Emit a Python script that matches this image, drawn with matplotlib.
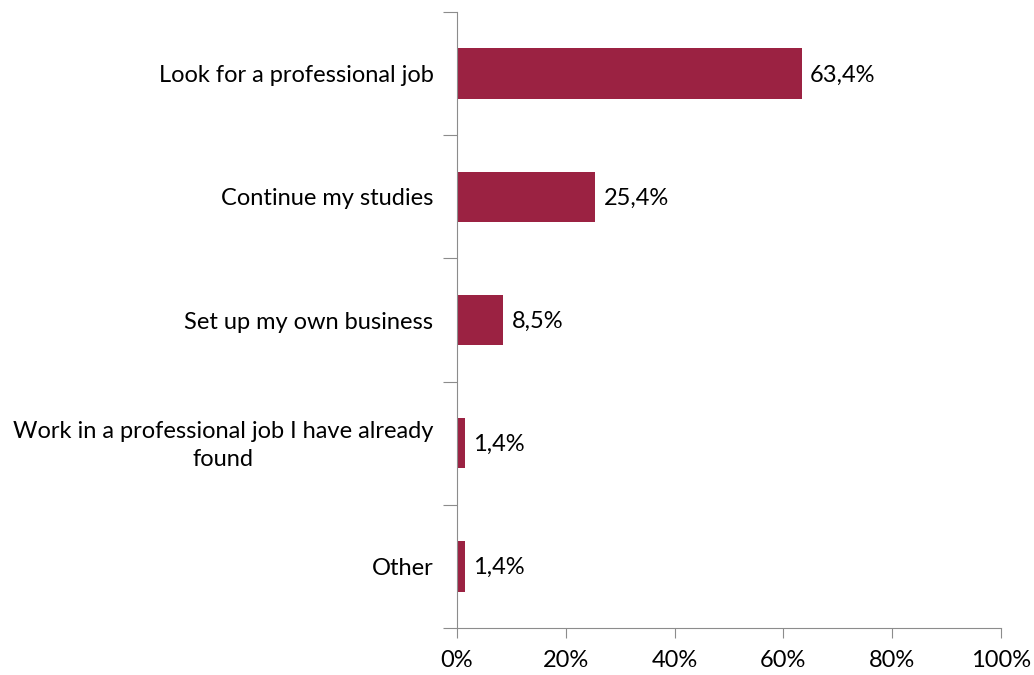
import numpy as np
import matplotlib.pyplot as plt

categories = ["Look for a professional job",
              "Continue my studies",
              "Set up my own business",
              "Work in a professional job I have already\nfound",
              "Other"]
values = [63.4, 25.4, 8.5, 1.4, 1.4]
xticks = [0, 20, 40, 60, 80, 100]

plt.rcParams['font.family'] = ['Lato', 'DejaVu Sans']
bar_color = '#9B2242'
axis_color = '#8C8C8C'
fs = 17

fig = plt.figure(figsize=(10.34, 6.75), dpi=100)
ax = fig.add_axes([0.442, 0.0696, 0.526, 0.9126])

y = np.arange(len(categories))
ax.barh(y, values, height=0.41, color=bar_color)
ax.set_ylim(len(categories) - 0.5, -0.5)
ax.set_xlim(0, 100)

# value labels
for yi, v in zip(y, values):
    ax.annotate(f"{v:.1f}%".replace('.', ','), (v, yi), xytext=(6, -1),
                textcoords='offset points', va='center', ha='left', fontsize=fs)

# category labels placed by hand so ticks can sit on the boundaries
ax.set_yticks(np.arange(-0.5, len(categories)), labels=[])
for yi, c in zip(y, categories):
    ax.annotate(c, (0, yi), xycoords=('axes fraction', 'data'),
                xytext=(-17, -1.5), textcoords='offset points', ha='right',
                va='center', fontsize=fs, multialignment='center',
                linespacing=1.4)

ax.set_xticks(xticks, labels=[f"{t}%" for t in xticks])
ax.tick_params(axis='x', length=7, color=axis_color, labelsize=fs, pad=9)
ax.tick_params(axis='y', length=10, color=axis_color, direction='out')

for side in ['top', 'right']:
    ax.spines[side].set_visible(False)
for side in ['left', 'bottom']:
    ax.spines[side].set_color(axis_color)

fig.savefig('out.png', dpi=100)
